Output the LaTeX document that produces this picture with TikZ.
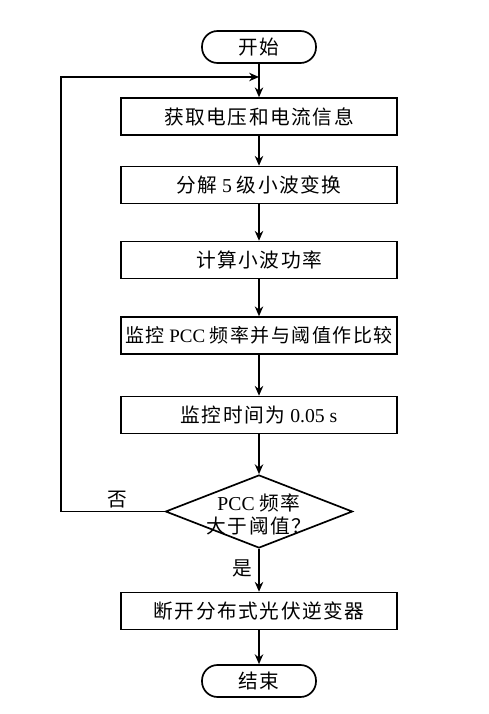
\documentclass[tikz,border=0pt]{standalone}
\usepackage{fontspec}
\setmainfont{Liberation Serif}
\newfontfamily\cjk[LetterSpace=8]{Noto Sans CJK SC}
\newcommand{\zh}[1]{{\cjk #1}}
\usetikzlibrary{shapes.geometric, arrows.meta}
\tikzset{
	procbox/.style={draw, line width=1.2pt, minimum width=6.9cm, minimum height=0.92cm, inner sep=0pt, font=\fontsize{14}{16}\selectfont},
	termbox/.style={draw, line width=1.2pt, rounded corners=0.39cm, minimum width=2.85cm, minimum height=0.8cm, inner sep=0pt, font=\fontsize{14}{16}\selectfont},
	decbox/.style={draw, diamond, line width=1.2pt, minimum width=4.675cm, minimum height=1.825cm, inner sep=0pt},
	flow/.style={line width=1.2pt, -{Stealth[length=7pt, width=6pt]}}
}
\begin{document}
\begin{tikzpicture}
		\useasboundingbox (0,0) rectangle (12.2,-17.85);
		\node[termbox] (start) at (6.475,-1.175) {\zh{开始}};
		\node[procbox] (volt) at (6.475,-2.9125) {\zh{获取电压和电流信息}};
		\node[procbox] (wave) at (6.475,-4.625) {\zh{分解} 5 \zh{级小波变换}};
		\node[procbox] (power) at (6.475,-6.5) {\zh{计算小波功率}};
		\node[procbox, font=\fontsize{13.5}{16}\selectfont] (freq) at (6.475,-8.3875) {\zh{监控} PCC \zh{频率并与阈值作比较}};
		\node[procbox] (time) at (6.475,-10.375) {\zh{监控时间为} 0.05 s};
		\node[decbox, label={[align=center, font=\fontsize{14}{16.3}\selectfont, yshift=-0.08cm]center:PCC \zh{频率}\\\zh{大于阈值？}}] (check) at (6.475,-12.7875) {};
		\node[procbox] (trip) at (6.475,-15.275) {\zh{断开分布式光伏逆变器}};
		\node[termbox] (stop) at (6.475,-17.025) {\zh{结束}};
		\coordinate (back) at (1.525,-1.925);
		\coordinate (join) at (6.475,-1.925);
		\draw[flow] (start) -- (volt);
		\draw[flow] (volt) -- (wave);
		\draw[flow] (wave) -- (power);
		\draw[flow] (power) -- (freq);
		\draw[flow] (freq) -- (time);
		\draw[flow] (time) -- (check);
		\draw[flow] (check) -- (trip);
		\draw[flow] (trip) -- (stop);
		\draw[flow] (check.west) -| (back) -- (join);
		\node[font=\fontsize{14}{16}\selectfont] (no) at (2.925,-12.5) {\zh{否}};
		\node[font=\fontsize{14}{16}\selectfont] (yes) at (6.05,-14.2) {\zh{是}};
	\end{tikzpicture}
\end{document}
